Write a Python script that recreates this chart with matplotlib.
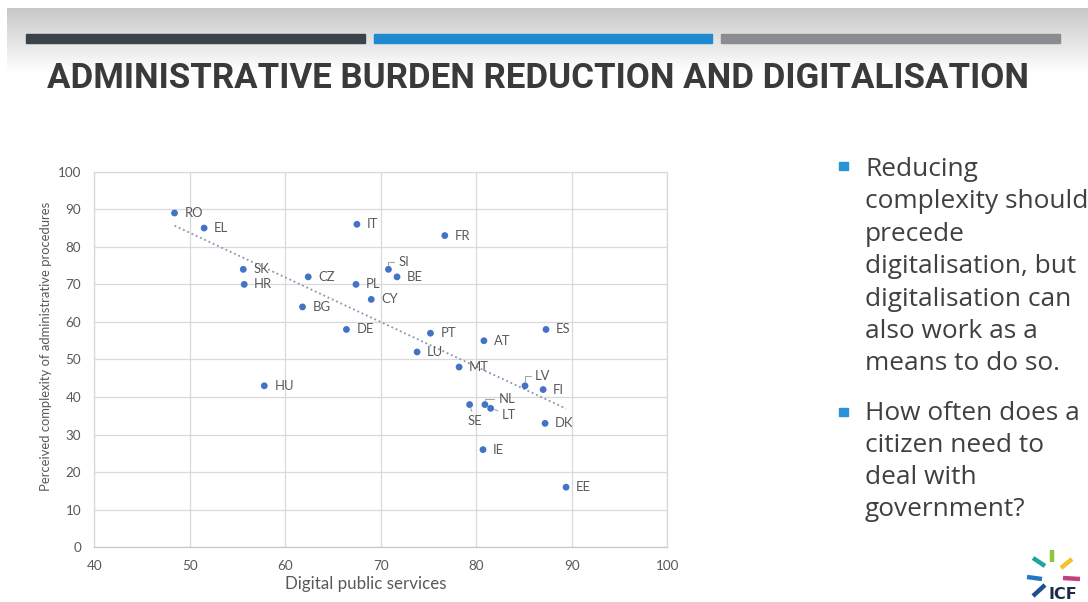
import matplotlib
matplotlib.use('Agg')
import matplotlib.pyplot as plt
import numpy as np
from matplotlib.patches import Rectangle
from matplotlib.lines import Line2D

# ---------------- data ----------------
countries = ['RO', 'EL', 'SK', 'HR', 'CZ', 'BG', 'IT', 'PL', 'CY', 'DE', 'SI', 'BE',
             'FR', 'PT', 'AT', 'ES', 'LU', 'MT', 'LV', 'FI', 'SE', 'NL', 'LT', 'DK',
             'IE', 'EE', 'HU']
digital = [48.4, 51.5, 55.6, 55.7, 62.4, 61.8, 67.5, 67.4, 69.0, 66.4, 70.8, 71.7,
           76.7, 75.2, 80.8, 87.3, 73.8, 78.2, 85.1, 87.0, 79.3, 80.9, 81.5, 87.2,
           80.7, 89.4, 57.8]
complexity = [89, 85, 74, 70, 72, 64, 86, 70, 66, 58, 74, 72,
              83, 57, 55, 58, 52, 48, 43, 42, 38, 38, 37, 33,
              26, 16, 43]
x_ticks = [40, 50, 60, 70, 80, 90, 100]
y_ticks = [0, 10, 20, 30, 40, 50, 60, 70, 80, 90, 100]
x_label = 'Digital public services'
y_label = 'Perceived complexity of administrative procedures'
title = 'ADMINISTRATIVE BURDEN REDUCTION AND DIGITALISATION'
bullet1 = ['Reducing', 'complexity should', 'precede', 'digitalisation, but',
           'digitalisation can', 'also work as a', 'means to do so.']
bullet2 = ['How often does a', 'citizen need to', 'deal with', 'government?']
logo_text = 'ICF'

# label placement (offset in points, alignment, leader style)
label_style = {
    'SI': ((7.2, 5.5), 'left', 'angle'),
    'LV': ((7.2, 7.4), 'left', 'angle'),
    'NL': ((9.9, 3.8), 'left', 'angle'),
    'LT': ((8.2, -4.5), 'left', 'arc'),
    'SE': ((3.8, -12.0), 'center', 'arc'),
}

W, H = 1088, 602
fig = plt.figure(figsize=(W / 100, H / 100), dpi=100)
fig.patch.set_facecolor('white')

# ---------------- slide background ----------------
bg = fig.add_axes([0, 0, 1, 1])
bg.set_xlim(0, W)
bg.set_ylim(H, 0)
bg.axis('off')
grad = np.linspace(0.78, 1.0, 200).reshape(-1, 1)
bg.imshow(np.dstack([grad, grad, grad]), extent=[7, W, 72, 8], aspect='auto',
          interpolation='bilinear', zorder=0)
bg.add_patch(Rectangle((26, 34), 339, 8.5, color='#3b4249', zorder=1))
bg.add_patch(Rectangle((374, 34), 338, 8.5, color='#1f8ad0', zorder=1))
bg.add_patch(Rectangle((721, 34), 339, 8.5, color='#8a8c92', zorder=1))

ttl = bg.text(47, 79, title, ha='left', va='center', fontsize=24, fontweight='bold',
              color='#3a3a3a', family=['Roboto', 'DejaVu Sans'], zorder=2)
fig.canvas.draw()
bb = ttl.get_window_extent()
ttl.set_fontsize(24 * 980 / bb.width)

# bullets
tcol = '#404040'
base1 = [176, 208.5, 241, 273.3, 305.6, 338, 370.3]
base2 = [419.5, 451.8, 484.2, 516.5]
for s, y in zip(bullet1, base1):
    bg.text(865, y, s, ha='left', va='baseline', fontsize=18.9, color=tcol,
            family=['Open Sans', 'DejaVu Sans'], zorder=2)
for s, y in zip(bullet2, base2):
    bg.text(865, y, s, ha='left', va='baseline', fontsize=18.9, color=tcol,
            family=['Open Sans', 'DejaVu Sans'], zorder=2)
bg.add_patch(Rectangle((839, 161.5), 8.5, 8.5, color='#2a93d5', zorder=2))
bg.add_patch(Rectangle((839, 407.5), 8.5, 8.5, color='#2a93d5', zorder=2))

# logo
logo = [((1052, 550), (1052, 562), '#8cc63e'),
        ((1033, 558), (1045, 566), '#1aa89c'),
        ((1061, 568), (1072, 559), '#f2c12e'),
        ((1027, 577), (1042, 579), '#1f7bc1'),
        ((1063, 578), (1080, 579), '#c4407c'),
        ((1033, 596), (1045, 585), '#1d4f91')]
for p0, p1, c in logo:
    bg.add_line(Line2D([p0[0], p1[0]], [p0[1], p1[1]], color=c, lw=3.2,
                       solid_capstyle='butt', zorder=2))
bg.text(1049, 599, logo_text, ha='left', va='baseline', fontsize=11.5, fontweight='bold',
        color='#1c2b4a', family=['DejaVu Sans'], zorder=2)

# ---------------- chart ----------------
ax = fig.add_axes([94.3 / W, 54.7 / H, 573 / W, 375.6 / H])
ax.set_facecolor('none')
ax.set_xlim(40, 100)
ax.set_ylim(0, 100)
ax.set_xticks(x_ticks)
ax.set_yticks(y_ticks)
ax.grid(True, color='#d9d9d9', lw=0.9)
ax.set_axisbelow(True)
for sp in ax.spines.values():
    sp.set_color('#d9d9d9')
    sp.set_linewidth(0.9)
ax.spines['bottom'].set_color('#c8c8c8')
ax.tick_params(length=0, labelsize=9.7, labelcolor='#595959')
ax.tick_params(axis='y', pad=9.5)
ax.tick_params(axis='x', pad=9.5)
for lab in ax.get_xticklabels() + ax.get_yticklabels():
    lab.set_family(['Lato', 'DejaVu Sans'])

xs = np.array(digital)
ys = np.array(complexity)
ax.scatter(xs, ys, s=24, color='#4472c4', edgecolors='none', zorder=3)

coef = np.polyfit(xs, ys, 1)
xl = np.array([xs.min(), xs.max()])
ax.plot(xl, np.polyval(coef, xl), color='#8497b0', lw=1.3,
        linestyle=(0, (1, 1.6)), zorder=2)

for c, x, y in zip(countries, xs, ys):
    if c in label_style:
        off, ha, lead = label_style[c]
        if lead == 'angle':
            ap = dict(arrowstyle='-', color='#a6a6a6', lw=0.8, shrinkA=1, shrinkB=3,
                      connectionstyle='angle,angleA=0,angleB=90,rad=0')
        else:
            ap = dict(arrowstyle='-', color='#a6a6a6', lw=0.8, shrinkA=1, shrinkB=3)
        ax.annotate(c, (x, y), xytext=off, textcoords='offset points', ha=ha,
                    va='center', fontsize=9.4, color='#595959',
                    family=['Lato', 'DejaVu Sans'], arrowprops=ap, zorder=4)
    else:
        ax.annotate(c, (x, y), xytext=(7.2, 0), textcoords='offset points',
                    ha='left', va='center', fontsize=9.4, color='#595959',
                    family=['Lato', 'DejaVu Sans'], zorder=4)

fig.text(366 / W, 1 - 584 / H, x_label, ha='center', va='center', fontsize=12.2,
         color='#595959', family=['Lato', 'DejaVu Sans'])
fig.text(46 / W, 1 - 346 / H, y_label, ha='center', va='center', rotation=90,
         fontsize=9.4, color='#595959', family=['Lato', 'DejaVu Sans'])

fig.savefig('out.png', dpi=100, facecolor='white')
